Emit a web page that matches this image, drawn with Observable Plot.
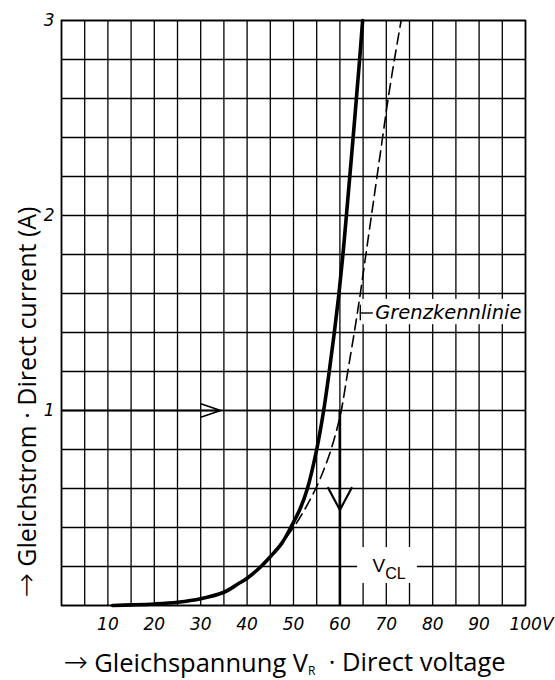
<!DOCTYPE html>
<html><head><meta charset="utf-8">
<script src="https://cdn.jsdelivr.net/npm/d3@7"></script>
<script src="https://cdn.jsdelivr.net/npm/@observablehq/plot@0.6"></script>
<style>
body{margin:0;background:#fff;}
#chart svg{display:block;}
</style></head><body><div id="chart"></div>
<script>
// tick labels
const xTicks = [10, 20, 30, 40, 50, 60, 70, 80, 90, 100];
const yTicks = [1, 2, 3];
// solid characteristic (V, A)
const voltageSolid = [11, 15, 20, 25, 30, 35, 38, 40, 43, 45, 47.5, 49.4, 51.5, 53, 55, 56.5, 57.7, 58.8, 59.8, 60.65, 61.4, 62.85, 64.25, 64.9];
const currentSolid = [0, 0.003, 0.008, 0.017, 0.035, 0.068, 0.11, 0.14, 0.2, 0.25, 0.32, 0.40, 0.5, 0.6, 0.8, 1.0, 1.2, 1.4, 1.6, 1.8, 2.0, 2.4, 2.8, 3.0];
// dashed limit characteristic "Grenzkennlinie"
const voltageLimit = [38, 40, 43, 46.5, 50, 52.6, 54.8, 56.6, 58.1, 59.3, 60.3, 61.7, 63.1, 64.4, 65.6, 66.8, 68.0, 69.2, 70.4, 71.75, 73.2];
const currentLimit = [0.11, 0.14, 0.195, 0.29, 0.40, 0.5, 0.6, 0.7, 0.8, 0.9, 1.0, 1.2, 1.4, 1.6, 1.8, 2.0, 2.2, 2.4, 2.6, 2.8, 3.0];
// operating point annotation
const clampVoltage = 60;
const clampCurrent = 1;
const hArrowTip = 34.3;
const vArrowTip = 0.49;
// labels
const arrowGlyph = "→";
const xTitle = " Gleichspannung V";
const xTitleSub = "R";
const xTitleRest = "  · Direct voltage";
const yTitle = " Gleichstrom · Direct current (A)";
const limitLabel = "Grenzkennlinie";
const vclLabel = "V";
const vclSub = "CL";

const solid = voltageSolid.map((v, i) => ({v, a: currentSolid[i]}));
const limit = voltageLimit.map((v, i) => ({v, a: currentLimit[i]}));
const xGrid = d3.range(0, 101, 5);
const yGrid = d3.range(0, 16).map(k => +(k * 0.2).toFixed(1));

const italicFont = "DejaVu Sans, sans-serif";
const titleFont = "Open Sans, sans-serif";

const chart = Plot.plot({
  width: 555, height: 680,
  marginLeft: 61, marginRight: 30, marginTop: 20, marginBottom: 75,
  style: {fontFamily: "Liberation Sans, sans-serif", background: "white", color: "black"},
  x: {domain: [0, 100]},
  y: {domain: [0, 3]},
  marks: [
    Plot.ruleX(xGrid, {stroke: "black", strokeWidth: 1.3}),
    Plot.ruleY(yGrid, {stroke: "black", strokeWidth: 1.3}),
    // label knock-outs
    Plot.rect([{x1: 64.9, x2: 99.5, y1: 1.44, y2: 1.57}], {x1: "x1", x2: "x2", y1: "y1", y2: "y2", fill: "white"}),
    Plot.rect([{x1: 63.8, x2: 76.7, y1: 0.113, y2: 0.297}], {x1: "x1", x2: "x2", y1: "y1", y2: "y2", fill: "white"}),
    // curves
    Plot.line(limit, {x: "v", y: "a", stroke: "black", strokeWidth: 1.6, strokeDasharray: "11,6", curve: "catmull-rom"}),
    Plot.line(solid, {x: "v", y: "a", stroke: "black", strokeWidth: 3.6, curve: "catmull-rom", strokeLinecap: "round"}),
    // operating point lines and arrows
    Plot.ruleY([clampCurrent], {x1: 0, x2: clampVoltage, stroke: "black", strokeWidth: 1.6}),
    Plot.ruleX([clampVoltage], {y1: 0, y2: clampCurrent, stroke: "black", strokeWidth: 2.6}),
    Plot.arrow([{x1: 0, y1: clampCurrent, x2: hArrowTip, y2: clampCurrent}], {x1: "x1", y1: "y1", x2: "x2", y2: "y2", stroke: "black", strokeWidth: 1.6, headLength: 19, headAngle: 38}),
    Plot.arrow([{x1: clampVoltage, y1: clampCurrent, x2: clampVoltage, y2: vArrowTip}], {x1: "x1", y1: "y1", x2: "x2", y2: "y2", stroke: "black", strokeWidth: 2.2, headLength: 17, headAngle: 56}),
    // Grenzkennlinie pointer
    Plot.ruleX([64.4], {y1: 1.46, y2: 1.54, stroke: "black", strokeWidth: 1.4}),
    Plot.ruleY([1.5], {x1: 64.4, x2: 67.2, stroke: "black", strokeWidth: 1.4}),
    Plot.text([limitLabel], {x: 67.6, y: 1.5, textAnchor: "start", fontSize: 19.5, fontStyle: "italic", fontFamily: italicFont}),
    Plot.text([vclLabel], {x: 69.6, y: 0.2, dy: -1, textAnchor: "end", fontSize: 19, className: "vcl"}),
    Plot.frame({stroke: "black", strokeWidth: 1.6}),
    // axes
    Plot.axisX(xTicks, {tickSize: 0, tickPadding: 12, fontSize: 17, fontStyle: "italic", fontFamily: italicFont, label: null,
      tickFormat: d => d === 100 ? "100V" : String(d), className: "xaxis"}),
    Plot.axisY(yTicks, {tickSize: 0, tickPadding: 7, fontSize: 17, fontStyle: "italic", fontFamily: italicFont, label: null,
      tickFormat: d => String(d)}),
    // titles
    Plot.text([xTitle], {frameAnchor: "bottom", textAnchor: "middle", lineAnchor: "middle", dx: -9, dy: 58, fontSize: 25.5, fontFamily: titleFont, className: "xtitle"}),
    Plot.text([yTitle], {frameAnchor: "left", textAnchor: "middle", lineAnchor: "middle", dx: -34, dy: 89, rotate: -90, fontSize: 25, fontFamily: titleFont, className: "ytitle"})
  ]
});
document.getElementById("chart").appendChild(chart);

// arrows, subscripts
const svg = d3.select(chart);
function withArrow(sel, rest) {
  sel.text(null);
  sel.append("tspan").attr("font-family", "DejaVu Sans").attr("font-weight", 200).attr("font-size", 29).text(arrowGlyph);
  sel.append("tspan").text(rest);
}
const xt = svg.select("g.xtitle text");
withArrow(xt, xTitle);
xt.append("tspan").attr("font-size", 12).attr("dy", "0.3em").text(xTitleSub);
xt.append("tspan").attr("dy", "-0.15em").text(xTitleRest);
withArrow(svg.select("g.ytitle text"), yTitle);
const vt = svg.select("g.vcl text");
vt.attr("text-anchor", "start").attr("dx", -12);
vt.append("tspan").attr("font-size", 16).attr("dy", "0.45em").text(vclSub);
svg.selectAll("g.xaxis text").filter(function(){ return this.textContent === "100V"; }).attr("dx", 6);
</script></body></html>
